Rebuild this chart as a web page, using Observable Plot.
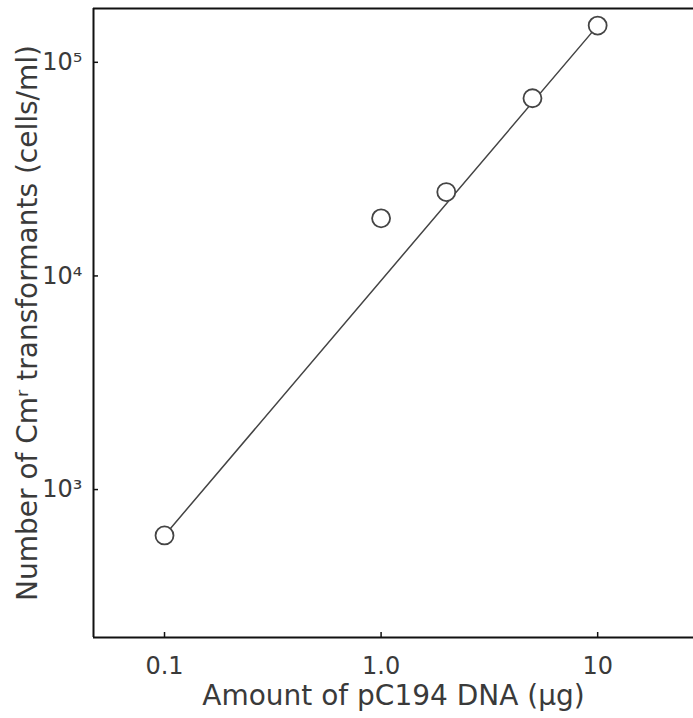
<!DOCTYPE html>
<html><head><meta charset="utf-8">
<script src="https://cdn.jsdelivr.net/npm/d3@7"></script>
<script src="https://cdn.jsdelivr.net/npm/@observablehq/plot@0.6"></script>
<style>html,body{margin:0;padding:0;background:#fff} svg{display:block}</style>
</head><body><div id="chart"></div>
<script>
// DNA amount (µg) and transformant counts (cells/ml)
const dnaAmount = [0.1, 1.0, 2.0, 5.0, 10];
const transformants = [610, 18600, 24700, 67900, 148500];
// fitted straight line (log-log)
const fitX = [0.1, 10];
const fitY = [610, 148500];
// axes
const xTicks = [0.1, 1, 10];
const xTickLabels = ["0.1", "1.0", "10"];
const yTicks = [1e3, 1e4, 1e5];
const yTickLabels = ["10³", "10⁴", "10⁵"];
const xDomain = [0.047, 27.7];
const yDomain = [203, 178600];
const xTitle = "Amount of pC194 DNA (μg)";
const yTitle = "Number of Cmʳ transformants (cells/ml)";

const points = dnaAmount.map((x, i) => ({x, y: transformants[i]}));
const fit = fitX.map((x, i) => ({x, y: fitY[i]}));
const ink = "#3a3a3a";

const chart = Plot.plot({
  width: 693, height: 718,
  marginLeft: 93, marginRight: 0, marginTop: 8, marginBottom: 81,
  style: {fontFamily: "DejaVu Sans", fontSize: "28px", color: ink, background: "#fff"},
  x: {type: "log", domain: xDomain},
  y: {type: "log", domain: yDomain},
  marks: [
    Plot.ruleX([xDomain[0]], {stroke: "#111", strokeWidth: 2}),
    Plot.ruleY([yDomain[0], yDomain[1]], {stroke: "#111", strokeWidth: 2}),
    Plot.axisX(xTicks, {
      tickSize: -5, tickPadding: 24, stroke: "#111", strokeWidth: 1.5,
      tickFormat: d => xTickLabels[xTicks.indexOf(d)],
      label: null, fontSize: 24
    }),
    Plot.axisX({
      ticks: [], tickSize: 0,
      label: xTitle, labelAnchor: "center", labelArrow: "none", labelOffset: 67,
      fontSize: 28
    }),
    Plot.axisY(yTicks, {
      tickSize: -5, tickPadding: 16, stroke: "#111", strokeWidth: 1.5,
      tickFormat: d => yTickLabels[yTicks.indexOf(d)],
      label: null, fontSize: 24
    }),
    Plot.axisY({
      ticks: [], tickSize: 0,
      label: yTitle, labelAnchor: "center", labelArrow: "none", labelOffset: 76,
      fontSize: 28
    }),
    Plot.line(fit, {x: "x", y: "y", stroke: "#444", strokeWidth: 1.5}),
    Plot.dot(points, {x: "x", y: "y", r: 9, fill: "white", stroke: "#444", strokeWidth: 1.8})
  ]
});
document.getElementById("chart").append(chart);
</script>
</body></html>
